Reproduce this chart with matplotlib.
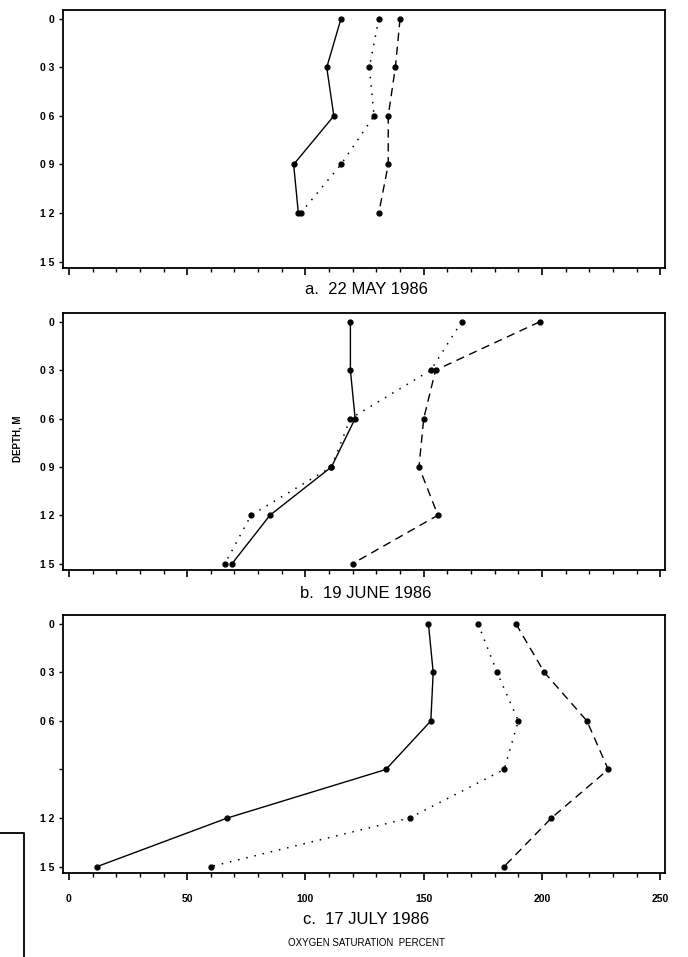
#!/usr/bin/env python3
"""
Oxygen saturation profiles by depth, three sampling dates (1986)
"""

import matplotlib
matplotlib.use('Agg')
import matplotlib.pyplot as plt
from matplotlib.lines import Line2D
from matplotlib.ticker import MultipleLocator

plt.rcParams['font.family'] = ['Liberation Sans', 'DejaVu Sans']

# depths (m) and oxygen saturation (%)
depth_a = [0.0, 0.3, 0.6, 0.9, 1.2]
may_solid = [115, 109, 112, 95, 97]
may_dotted = [131, 127, 129, 115, 98]
may_dashed = [140, 138, 135, 135, 131]

depth_b = [0.0, 0.3, 0.6, 0.9, 1.2, 1.5]
june_solid = [119, 119, 121, 111, 85, 69]
june_dotted = [166, 153, 119, 111, 77, 66]
june_dashed = [199, 155, 150, 148, 156, 120]

depth_c = [0.0, 0.3, 0.6, 0.9, 1.2, 1.5]
july_solid = [152, 154, 153, 134, 67, 12]
july_dotted = [173, 181, 190, 184, 144, 60]
july_dashed = [189, 201, 219, 228, 204, 184]

depth_ticks = [0.0, 0.3, 0.6, 0.9, 1.2, 1.5]
depth_labels = ['0', '0 3', '0 6', '0 9', '1 2', '1 5']
depth_labels_c = ['0', '0 3', '0 6', '', '1 2', '1 5']
x_ticks = [0, 50, 100, 150, 200, 250]
x_labels = ['0', '50', '100', '150', '200', '250']

panel_titles = ['a.  22 MAY 1986', 'b.  19 JUNE 1986', 'c.  17 JULY 1986']

W, H = 688, 957


def fx(px):
    return px / W


def fy(py):
    return 1 - py / H


def draw_panel(ax, depth, solid, dotted, dashed, ylabels, show_x):
    ax.plot(solid, depth, color='black', lw=1.0, marker='o', ms=3.5)
    ax.plot(dotted, depth, color='black', lw=1.1, dashes=(1, 4.5),
            marker='o', ms=3.5)
    ax.plot(dashed, depth, color='black', lw=1.0, dashes=(6, 4),
            marker='o', ms=3.5)

    ax.set_xlim(-2.5, 252)
    ax.set_ylim(1.54, -0.055)
    ax.set_yticks(depth_ticks)
    ax.set_yticklabels(ylabels, fontsize=7.5, fontweight='bold')
    ax.set_xticks(x_ticks)
    ax.xaxis.set_minor_locator(MultipleLocator(10))
    if show_x:
        ax.set_xticklabels(x_labels, fontsize=7.5, fontweight='bold')
    else:
        ax.set_xticklabels([])
    ax.tick_params(axis='y', direction='out', length=3, width=1, pad=3)
    ax.tick_params(axis='x', which='major', direction='out', length=5,
                   width=1.2, pad=10)
    ax.tick_params(axis='x', which='minor', direction='out', length=3,
                   width=1)
    for s in ax.spines.values():
        s.set_linewidth(1.3)


fig = plt.figure(figsize=(W / 100, H / 100), dpi=100)

left, right = 63, 665
boxes = [(10, 268), (313, 570), (615, 873)]
data = [
    (depth_a, may_solid, may_dotted, may_dashed, depth_labels, False),
    (depth_b, june_solid, june_dotted, june_dashed, depth_labels, False),
    (depth_c, july_solid, july_dotted, july_dashed, depth_labels_c, True),
]
title_y = [290, 593, 920]

for (top, bottom), d, ty, title in zip(boxes, data, title_y, panel_titles):
    ax = fig.add_axes([fx(left), fy(bottom), fx(right - left),
                       (bottom - top) / H])
    draw_panel(ax, *d)
    fig.text(fx(366), fy(ty), title, ha='center', va='center', fontsize=12)

fig.text(fx(366), fy(943), 'OXYGEN SATURATION  PERCENT',
         ha='center', va='center', fontsize=7)
fig.text(fx(18), fy(439), 'DEPTH, M', ha='center', va='center',
         rotation=90, fontsize=7, fontweight='bold')

# edge of the neighbouring sheet caught in the scan
fig.add_artist(Line2D([0, fx(24), fx(24)], [fy(833), fy(833), 0],
                      transform=fig.transFigure, color='black', lw=1.3))

plt.savefig('out.png', dpi=100)
